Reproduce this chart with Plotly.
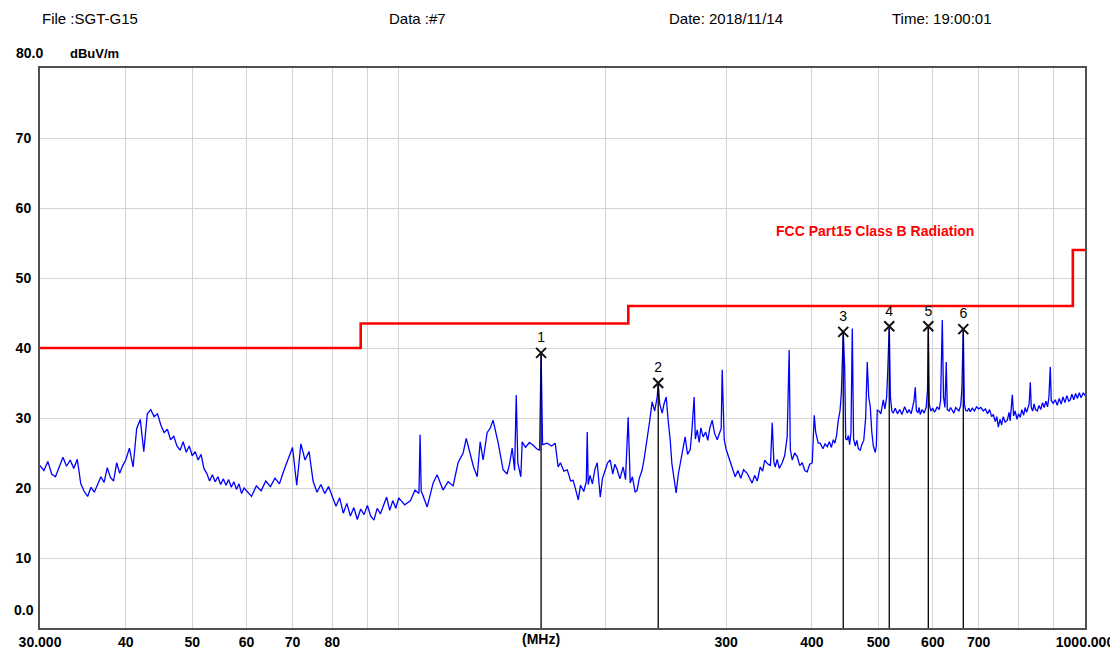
import math
import plotly.graph_objects as go

# ---------------- data ----------------
# Scan trace (frequency MHz, level dBuV/m), in segments
freq_a = [30.0, 30.4, 30.8, 31.2, 31.6, 32.0, 32.4, 32.8, 33.2, 33.6, 34.0, 34.4, 34.8,
          35.2, 35.6, 36.0, 36.4, 36.8, 37.2, 37.6, 38.0, 38.4, 38.8, 39.2, 39.6, 40.0,
          40.5, 41.0, 41.5, 42.0, 42.5, 43.0, 43.5, 44.0, 44.5, 45.0,
          45.5, 46.0, 46.5, 47.0, 47.5, 48.0, 48.5, 49.0, 49.5, 50.0,
          50.5, 51.0, 51.5, 52.0, 52.5, 53.0, 53.5, 54.0, 54.5, 55.0,
          55.5, 56.0, 56.5, 57.0, 57.5, 58.0, 58.5, 59.0, 59.5, 60.0]
level_a = [23.2, 22.5, 23.8, 22.0, 21.6, 23.0, 24.4, 23.1, 24.0, 22.8, 24.1, 20.6, 19.5,
           18.8, 20.1, 19.4, 20.6, 21.6, 20.8, 22.9, 21.5, 21.0, 23.6, 22.1, 23.2, 24.0,
           25.7, 23.0, 28.5, 29.8, 25.2, 30.6, 31.2, 30.2, 30.6, 29.0,
           27.9, 28.4, 26.9, 27.4, 26.0, 25.4, 26.6, 25.1, 26.0, 24.6,
           25.2, 24.0, 24.8, 22.8, 22.1, 21.0, 21.9, 20.9, 21.6, 20.5,
           21.3, 20.4, 21.2, 20.1, 20.9, 19.8, 20.6, 19.2, 20.0, 19.6]

freq_b = [61, 62, 63, 64, 65, 66, 67, 68, 69, 70,
          71, 72, 73, 74, 75, 76, 77, 78, 79, 80,
          81, 82, 83, 84, 85, 86, 87, 88, 89, 90,
          91, 92, 93, 94, 95, 96, 97, 98, 99, 100]
level_b = [18.8, 20.3, 19.6, 21.0, 20.2, 21.4, 20.6, 22.5, 24.3, 25.8,
           20.4, 26.3, 24.0, 25.2, 21.0, 19.4, 20.5, 19.2, 20.2, 18.9,
           17.4, 18.6, 16.4, 17.8, 16.0, 17.2, 15.5, 17.0, 16.2, 17.5,
           16.0, 15.4, 17.1, 16.3, 17.6, 18.7, 16.8, 18.2, 17.1, 18.6]

freq_c = [102, 104, 105.6, 107.0, 107.4, 107.8, 110, 112.2, 113.7, 116,
          118, 120, 122, 124.1, 125.4, 127, 128.5, 130.1, 131.4, 132.7,
          134.5, 136, 137.2, 139.6, 141.9, 143.8, 145, 146.3, 147.5, 148.3,
          149.1, 150.6, 151.3, 153, 155, 157, 158.8, 160.4, 161.2, 162.0,
          164.5, 167, 169.0, 170.7]
level_c = [17.6, 18.2, 19.7, 19.2, 27.6, 19.6, 17.3, 20.7, 21.9, 19.7,
           20.9, 20.3, 23.6, 25.0, 27.1, 25.0, 23.0, 21.6, 26.6, 24.0,
           27.9, 28.6, 29.7, 26.4, 22.6, 22.0, 23.4, 25.7, 22.5, 33.3,
           23.6, 21.6, 26.6, 25.8, 26.5, 26.1, 25.6, 25.4, 39.3, 26.2,
           26.4, 26.0, 26.4, 23.0]

freq_d = [172, 174, 176, 178, 179.5, 181, 182.6, 184, 186, 187.6,
          188.2, 188.8, 190, 191.5, 193, 194.6, 195.6, 196.6, 198, 200,
          201.5, 203.3, 205, 206.5, 208.1, 210, 212.3, 214, 215.9, 217.4,
          219, 221, 222.5, 224, 226.3, 228, 230.1, 232, 234, 236,
          238, 238.8, 240, 242, 243.5, 245.3, 247, 248.6, 250, 252,
          253.6, 255.5, 257.1, 259, 261.4, 263.5, 265.9, 267.5, 269.4, 270.5,
          272.2, 274, 275.5, 277.7, 280, 282, 284, 286.2, 288.5, 291.1,
          293, 295, 296.0, 298.0, 300]
level_d = [23.6, 22.4, 22.6, 21.0, 21.1, 19.8, 18.3, 20.4, 19.5, 20.9,
           28.0, 20.5, 21.8, 20.6, 22.6, 23.6, 21.0, 18.7, 21.3, 22.5,
           23.6, 24.0, 22.0, 23.4, 22.6, 21.3, 23.0, 21.2, 30.1, 20.7,
           21.6, 19.4, 19.7, 21.3, 22.6, 24.4, 26.9, 29.5, 32.3, 31.0,
           33.0, 35.0, 32.0, 30.7, 32.0, 33.0, 29.5, 26.9, 23.5, 21.0,
           19.3, 22.0, 23.6, 25.0, 27.3, 24.8, 25.5, 28.4, 33.0, 27.0,
           28.3, 26.5, 28.6, 27.3, 28.0, 26.8, 28.6, 29.7, 27.8, 26.9,
           27.8, 28.5, 36.9, 26.9, 25.5]

freq_e = [302, 304, 306.5, 309.2, 312, 315, 318, 321.9, 324.5, 327.3,
          330, 333, 336.3, 339, 341.5, 344.3, 348, 350.1, 352, 353.6,
          356, 358.5, 362, 365, 368.1, 370.6, 372, 374.4, 377.5, 380.7,
          384, 387.2, 390.5, 393.7, 397, 400.4, 403.1, 405, 408.5, 411.3,
          415, 418, 421.1, 424, 427, 429.7, 432, 434.5, 437, 439.5,
          441.5]
level_e = [24.6, 23.6, 22.8, 21.6, 22.5, 21.4, 22.6, 22.1, 21.4, 20.7,
           21.8, 21.0, 23.0, 22.4, 24.0, 23.5, 23.2, 29.3, 23.8, 23.0,
           24.1, 22.8, 23.6, 24.6, 27.3, 39.7, 25.5, 24.0, 25.0, 24.5,
           23.2, 23.6, 22.5, 22.3, 23.4, 23.6, 30.4, 28.0, 26.4, 26.4,
           25.6, 26.3, 25.9, 26.6, 25.8, 26.9, 26.4, 27.5, 29.7, 31.0,
           33.5]

freq_f = [444.3, 446.5, 448, 450.3, 452, 454, 456, 458, 460, 462.6,
          465, 467.5, 470.4, 473, 476, 479, 481.6, 484, 486.5, 489,
          491.5, 494.7, 496.5, 498, 501, 504, 506, 508.2, 511, 514,
          516, 518.5, 520.5, 523, 525.5, 529, 533, 537, 541, 546,
          550.8, 554, 558, 561, 563.5, 565.8, 568, 571, 573, 575.4,
          579, 583, 587, 589.5, 591.1, 593, 596, 600, 603, 605.1,
          609, 613, 616, 619.5, 622, 625, 627.8, 630, 634, 637,
          640.6, 644, 648, 651.5, 655, 659, 661.5, 664.7, 667, 670,
          674, 677, 680.5, 685, 690, 695, 700, 705, 710.9, 716,
          721, 726, 731, 735.2, 740, 744, 747.6, 752, 756, 760,
          765, 770.6, 775, 778, 780, 783.6, 787, 791, 796, 800,
          804.8, 809, 814, 818, 822, 826, 829, 832.3, 835, 839,
          843, 847, 852.1, 857, 862, 867, 872, 877, 882, 886,
          890, 893, 899, 905, 911, 917, 923, 929, 935, 941,
          947, 951.8, 957, 963, 969, 975, 981, 987, 994.3, 1000]
level_f = [42.3, 37.0, 27.0, 26.9, 27.5, 26.2, 28.0, 42.8, 27.0, 26.0,
           26.8, 25.6, 25.4, 26.2, 26.8, 30.0, 38.0, 33.0, 31.6, 28.0,
           26.0, 25.1, 26.0, 31.1, 31.0, 30.6, 31.5, 32.6, 31.3, 33.0,
           37.0, 43.1, 33.0, 31.0, 30.7, 31.4, 30.6, 31.2, 30.5, 31.6,
           30.7, 31.2, 30.6, 31.8, 32.5, 34.4, 31.0, 30.8, 31.5, 30.5,
           31.2, 30.7, 31.6, 34.0, 43.1, 32.0, 31.0, 31.4, 30.9, 31.0,
           31.6, 31.2, 32.5, 44.0, 33.0, 31.5, 38.0, 31.2, 31.0, 31.5,
           31.0, 30.7, 31.5, 31.3, 31.0, 31.8, 34.0, 42.7, 32.0, 31.1,
           31.0, 31.4, 30.9, 31.4, 31.0, 31.6, 31.3, 31.5, 31.0, 31.3,
           30.6, 31.2, 30.2, 30.5, 29.5, 30.2, 28.7, 29.8, 29.0, 30.2,
           29.4, 29.7, 30.8, 29.6, 31.0, 33.3, 30.3, 31.0, 29.8, 30.6,
           30.1, 31.2, 30.4, 31.5, 30.8, 31.6, 32.0, 35.1, 31.5, 31.0,
           32.0, 31.2, 31.0, 31.8, 31.2, 32.2, 31.5, 32.4, 31.6, 33.0,
           37.3, 32.5, 32.1, 32.6, 31.8, 32.8, 32.0, 33.0, 32.2, 33.2,
           32.4, 32.6, 33.4, 32.6, 33.5, 32.8, 33.6, 32.9, 33.6, 33.2]

# Limit line: FCC Part15 Class B (stepped)
limit_freq = [30, 88, 88, 216, 216, 960, 960, 1000]
limit_level = [40.0, 40.0, 43.5, 43.5, 46.0, 46.0, 54.0, 54.0]

# Markers
marker_no = ["1", "2", "3", "4", "5", "6"]
marker_freq = [161.2, 238.8, 444.3, 518.5, 591.1, 664.7]
marker_level = [39.3, 35.0, 42.3, 43.1, 43.1, 42.7]

# Axis ticks
x_grid = [30, 40, 50, 60, 70, 80, 90, 100, 200, 300, 400, 500, 600, 700, 800, 900, 1000]
x_text = ["30.000", "40", "50", "60", "70", "80", "", "", "", "300", "400", "500",
          "600", "700", "", "", "1000.000"]
y_grid = [10, 20, 30, 40, 50, 60, 70]
y_text = ["10", "20", "30", "40", "50", "60", "70"]

# ---------------- figure ----------------
segs = [(freq_a, level_a), (freq_b, level_b), (freq_c, level_c),
        (freq_d, level_d), (freq_e, level_e), (freq_f, level_f)]
scan_f, scan_l = [], []
for f, l in segs:
    assert len(f) == len(l), (len(f), len(l))
    scan_f += f
    scan_l += l

# page has an 8px body margin: the figure is drawn 8px right / down
OFF = 8
W, H = 1118 - OFF, 652 - OFF
L = 40 - OFF
T = 68 - OFF
R = W - (1085 - OFF)
B = H - (628 - OFF)
pw, ph = W - L - R, H - T - B

def px(xp):
    return (xp - OFF - L) / pw

def py(yp):
    return (H - B - (yp - OFF)) / ph

fig = go.Figure()

fig.add_trace(go.Scatter(x=limit_freq, y=limit_level, mode="lines",
                         line=dict(color="#ff0000", width=2.6), hoverinfo="skip"))

fig.add_trace(go.Scatter(x=scan_f, y=scan_l, mode="lines",
                         line=dict(color="#0000ff", width=1.3)))

vx, vy = [], []
for f, l in zip(marker_freq, marker_level):
    vx += [f, f, None]
    vy += [l, 0, None]
fig.add_trace(go.Scatter(x=vx, y=vy, mode="lines",
                         line=dict(color="#000000", width=1.3), hoverinfo="skip"))

fig.add_trace(go.Scatter(x=marker_freq, y=marker_level, mode="markers+text",
                         text=marker_no, textposition="top center",
                         textfont=dict(family="Liberation Sans, Arial", size=14, color="#000000"),
                         marker=dict(symbol="x-thin", size=10,
                                     line=dict(width=2, color="#111111"), color="#111111")))

tick_font = dict(family="Liberation Sans, Arial", size=14, color="#000000", weight="bold")

fig.update_layout(
    width=W, height=H,
    margin=dict(l=L, r=R, t=T, b=B, autoexpand=False),
    paper_bgcolor="white", plot_bgcolor="white",
    showlegend=False,
    xaxis=dict(type="log", range=[math.log10(30), math.log10(1000)],
               tickvals=x_grid, ticktext=x_text, tickfont=tick_font,
               showgrid=True, gridcolor="#d4d4d4", gridwidth=1,
               showline=True, linecolor="#505050", linewidth=2, mirror=True,
               ticks="", zeroline=False, automargin=False),
    yaxis=dict(range=[0, 80], tickvals=y_grid, ticktext=y_text, tickfont=tick_font,
               showgrid=True, gridcolor="#d4d4d4", gridwidth=1,
               showline=True, linecolor="#505050", linewidth=2, mirror=True,
               ticks="", zeroline=False, ticklabelstandoff=4, automargin=False),
)

hdr_font = dict(family="Liberation Sans, Arial", size=15, color="#000000")
bold_font = dict(family="Liberation Sans, Arial", size=14, color="#000000", weight="bold")
annots = [
    dict(text="File :SGT-G15", x=px(40), y=py(18), xanchor="left", font=hdr_font),
    dict(text="Data :#7", x=px(387), y=py(18), xanchor="left", font=hdr_font),
    dict(text="Date: 2018/11/14", x=px(667), y=py(18), xanchor="left", font=hdr_font),
    dict(text="Time: 19:00:01", x=px(890), y=py(18), xanchor="left", font=hdr_font),
    dict(text="80.0", x=px(45), y=py(53), xanchor="right", font=bold_font),
    dict(text="dBuV/m", x=px(68), y=py(53), xanchor="left",
         font=dict(family="Liberation Sans, Arial", size=13, color="#000000", weight="bold")),
    dict(text="0.0", x=px(36), y=py(610), xanchor="right", font=bold_font),
    dict(text="(MHz)", x=px(541), y=py(639), xanchor="center", font=bold_font),
]
for a in annots:
    fig.add_annotation(xref="paper", yref="paper", showarrow=False, yanchor="middle", **a)

fig.add_annotation(x=math.log10(494.7), y=56.7, xref="x", yref="y", showarrow=False,
                   text="FCC Part15 Class B Radiation",
                   font=dict(family="Liberation Sans, Arial", size=14, color="#ff0000",
                             weight="bold"))

fig.write_html("out.html")
